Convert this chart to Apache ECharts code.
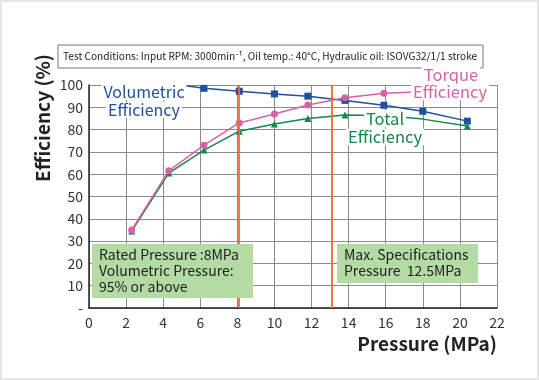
<!DOCTYPE html>
<html><head><meta charset="utf-8">
<script src="https://cdn.jsdelivr.net/npm/echarts@6/dist/echarts.min.js"></script>
<style>html,body{margin:0;padding:0;background:#e6e6e6}#c{position:absolute;left:2px;top:2px;width:535px;height:376px;background:#fff}</style>
</head><body><div id="c"></div>
<script>
const FONT = '"Noto Sans CJK JP","Noto Sans",sans-serif';
const xTicks = [0,2,4,6,8,10,12,14,16,18,20,22];
const yTickLabels = ['-','10','20','30','40','50','60','70','80','90','100'];
const volPressure = [4.3, 6.2, 8.1, 10.0, 11.8, 13.8, 15.9, 18.0, 20.4];
const volValues   = [100.7, 98.5, 97.2, 96.0, 95.0, 93.1, 90.9, 88.2, 83.8];
const torPressure = [2.3, 4.3, 6.2, 8.1, 10.0, 11.8, 13.8, 15.9, 17.6];
const torValues   = [35, 61.5, 73, 83, 87, 91, 94.3, 96.3, 96.9];
const totPressure = [2.3, 4.3, 6.2, 8.1, 10.0, 11.8, 13.8, 15.9, 18.0, 20.4];
const totValues   = [34.5, 60.5, 70.8, 79.3, 82.5, 85, 86.5, 86.3, 84.7, 81.6];
const ratedPressure = 8.1;
const maxPressure = 13.1;

const chart = echarts.init(document.getElementById('c'));
function pairs(xs, ys, hidden){
  return xs.map((x,i)=>{
    const d = {value:[x, ys[i]]};
    if (hidden.indexOf(i) >= 0) d.symbol='none';
    return d;
  });
}
const BLUE='#2150a0', PINK='#d862a8', GREEN='#12884a', ORANGE='#f26a28';
// container is offset by 2px, so graphic coords = page coords - 2
function T(x, y, text, size, color, extra){
  return Object.assign({type:'text', x:x-2, y:y-2, z:12,
    style:Object.assign({text:text, fontSize:size, fontFamily:FONT, fill:color}, extra||{})});
}
const lbl = (c)=>({align:'center', verticalAlign:'middle', backgroundColor:'#fff', padding:[0,2]});
chart.setOption({
  animation:false,
  grid:{left:87, right:40, top:83, bottom:70},
  xAxis:{type:'value', min:0, max:22, interval:2,
    axisLine:{show:true, lineStyle:{color:'#222', width:1.5}},
    axisTick:{show:false},
    axisLabel:{color:'#333', fontSize:14, fontFamily:FONT, margin:8},
    splitLine:{show:true, lineStyle:{color:'#8a8a8a', width:1}}},
  yAxis:{type:'value', min:0, max:100, interval:10,
    axisLine:{show:true, lineStyle:{color:'#222', width:1.5}},
    axisTick:{show:false},
    axisLabel:{color:'#333', fontSize:14, fontFamily:FONT, margin:6,
      formatter:(v)=>yTickLabels[Math.round(v/10)]},
    splitLine:{show:true, lineStyle:{color:'#8a8a8a', width:1}}},
  series:[
    {type:'line', data:pairs(volPressure, volValues, [0]), clip:true,
     symbol:'rect', symbolSize:7, lineStyle:{color:BLUE, width:1.5}, itemStyle:{color:BLUE}, z:3},
    {type:'line', data:pairs(torPressure, torValues, [8]), clip:true,
     symbol:'circle', symbolSize:7, lineStyle:{color:PINK, width:1.5}, itemStyle:{color:PINK}, z:4},
    {type:'line', data:pairs(totPressure, totValues, [7,8]), clip:true,
     symbol:'triangle', symbolSize:7, lineStyle:{color:GREEN, width:1.5}, itemStyle:{color:GREEN}, z:3,
     markLine:{silent:true, symbol:'none', label:{show:false},
       lineStyle:{color:ORANGE, width:1.8, type:'solid'},
       data:[{xAxis:ratedPressure},{xAxis:maxPressure}]}}
  ],
  graphic:[
    {type:'rect', x:56, y:43, shape:{width:425, height:23}, style:{fill:'#fff', stroke:'#777', lineWidth:1}, z:10},
    T(63, 56.5, 'Test Conditions: Input RPM: 3000min⁻¹, Oil temp.: 40°C, Hydraulic oil: ISOVG32/1/1 stroke', 10.1, '#222', {verticalAlign:'middle'}),
    Object.assign(T(43, 118, 'Efficiency (%)', 19, '#222', {fontWeight:'bold', align:'center', verticalAlign:'middle'}), {rotation:Math.PI/2}),
    T(497, 344, 'Pressure (MPa)', 19, '#222', {fontWeight:'bold', align:'right', verticalAlign:'middle'}),
    T(144, 92, 'Volumetric', 16, BLUE, lbl()),
    T(144, 110, 'Efficiency', 16, BLUE, lbl()),
    T(451, 75, 'Torque', 16.5, PINK, lbl()),
    T(450, 92, 'Efficiency', 16.5, PINK, lbl()),
    T(385, 119, 'Total', 16.5, GREEN, lbl()),
    T(385, 137, 'Efficiency', 16.5, GREEN, lbl()),
    {type:'rect', x:90, y:242, shape:{width:161, height:54}, style:{fill:'#b4dba4'}, z:10},
    T(99, 271, 'Rated Pressure :8MPa\nVolumetric Pressure:\n95% or above', 14, '#222', {verticalAlign:'middle', lineHeight:16}),
    {type:'rect', x:335, y:242, shape:{width:141, height:39}, style:{fill:'#b4dba4'}, z:10},
    T(344, 263, 'Max. Specifications\nPressure  12.5MPa', 14, '#222', {verticalAlign:'middle', lineHeight:16})
  ]
});
</script></body></html>
